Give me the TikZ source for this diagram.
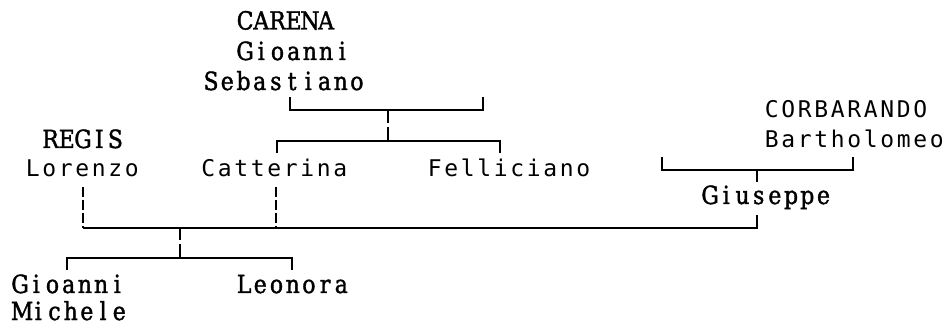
\documentclass[tikz,border=0pt]{standalone}
\usepackage{fontspec}
\usepackage{graphicx}
\newfontfamily\sansfam{DejaVu Sans Mono}
\newfontfamily\serfam{DejaVu Serif}[FakeBold=1.6]
\newcommand\sansfont{\sansfam\fontsize{23pt}{27pt}\selectfont}
\newcommand\serfont{\serfam\fontsize{25pt}{29pt}\selectfont}
\newlength\cellser \setlength\cellser{16.2pt}
\newlength\cellsan \setlength\cellsan{16.5pt}
\newcommand\glyphser[1]{\makebox[\cellser][c]{\scalebox{0.88}[1]{\serfont #1}}}
\newcommand\glyphsan[1]{\makebox[\cellsan][c]{\sansfont #1}}
\def\loopser#1{\ifx#1\relax\else\glyphser{#1}\expandafter\loopser\fi}
\def\loopsan#1{\ifx#1\relax\else\glyphsan{#1}\expandafter\loopsan\fi}
\newcommand\sertext[1]{\loopser#1\relax}
\newcommand\santext[1]{\loopsan#1\relax}
\tikzset{
  lbl/.style={anchor=base west, inner sep=0pt, outer sep=0pt},
  link/.style={line width=1.6pt, line cap=butt, line join=miter},
  dlink/.style={link, dash pattern=on 10pt off 3pt},
}
\begin{document}
\begin{tikzpicture}[x=1pt,y=-1pt]
\useasboundingbox[fill=white] (0,0) rectangle (943,331);
% texts
\node[lbl] (carenaA) at (237,29.5) {\sertext{CARENA}};
\node[lbl] (carenaB) at (237,60) {\sertext{Gioanni}};
\node[lbl] (carenaC) at (203,90) {\sertext{Sebastiano}};
\node[lbl] (regisA) at (42.5,148) {\sertext{REGIS}};
\node[lbl] (regisB) at (24.5,177) {\santext{Lorenzo}};
\node[lbl] (catterina) at (200,177) {\santext{Catterina}};
\node[lbl] (felliciano) at (426.5,177) {\santext{Felliciano}};
\node[lbl] (corbA) at (763.5,118) {\santext{CORBARANDO}};
\node[lbl] (corbB) at (763.5,148) {\santext{Bartholomeo}};
\node[lbl] (giuseppe) at (702,204) {\sertext{Giuseppe}};
\node[lbl] (gioA) at (12,293) {\sertext{Gioanni}};
\node[lbl] (gioB) at (14,320) {\sertext{Michele}};
\node[lbl] (leonora) at (236,293) {\sertext{Leonora}};
% coordinates
\coordinate (tbL) at (290,97);  \coordinate (tbLc) at (290,110);
\coordinate (tbR) at (483,97);  \coordinate (tbRc) at (483,110);
\coordinate (tsA) at (388,110); \coordinate (tsB) at (388,123);
\coordinate (tsC) at (388,127); \coordinate (tsD) at (388,141);
\coordinate (sbL) at (277,153); \coordinate (sbLc) at (277,141);
\coordinate (sbR) at (500,153); \coordinate (sbRc) at (500,141);
\coordinate (loT) at (83,187);  \coordinate (loB) at (83,228);
\coordinate (caT) at (276,187); \coordinate (caB) at (276,228);
\coordinate (giT) at (757,215); \coordinate (giB) at (757,228);
\coordinate (rbL) at (662,157); \coordinate (rbLc) at (662,170);
\coordinate (rbR) at (853,157); \coordinate (rbRc) at (853,170);
\coordinate (rsA) at (757,170); \coordinate (rsB) at (757,182);
\coordinate (csA) at (180,228); \coordinate (csB) at (180,240);
\coordinate (csC) at (180,244); \coordinate (csD) at (180,258);
\coordinate (cbL) at (67,270);  \coordinate (cbLc) at (67,258);
\coordinate (cbR) at (292,270); \coordinate (cbRc) at (292,258);
% connectors
\draw[link] (tbL) -- (tbLc) -- (tbRc) -- (tbR);
\draw[link] (tsA) -- (tsB);
\draw[link] (tsC) -- (tsD);
\draw[link] (sbL) -- (sbLc) -- (sbRc) -- (sbR);
\draw[dlink] (loT) -- (loB);
\draw[dlink] (caT) -- (caB);
\draw[link] (loB) -- (giB) -- (giT);
\draw[link] (rbL) -- (rbLc) -- (rbRc) -- (rbR);
\draw[link] (rsA) -- (rsB);
\draw[link] (csA) -- (csB);
\draw[link] (csC) -- (csD);
\draw[link] (cbL) -- (cbLc) -- (cbRc) -- (cbR);
\end{tikzpicture}
\end{document}
